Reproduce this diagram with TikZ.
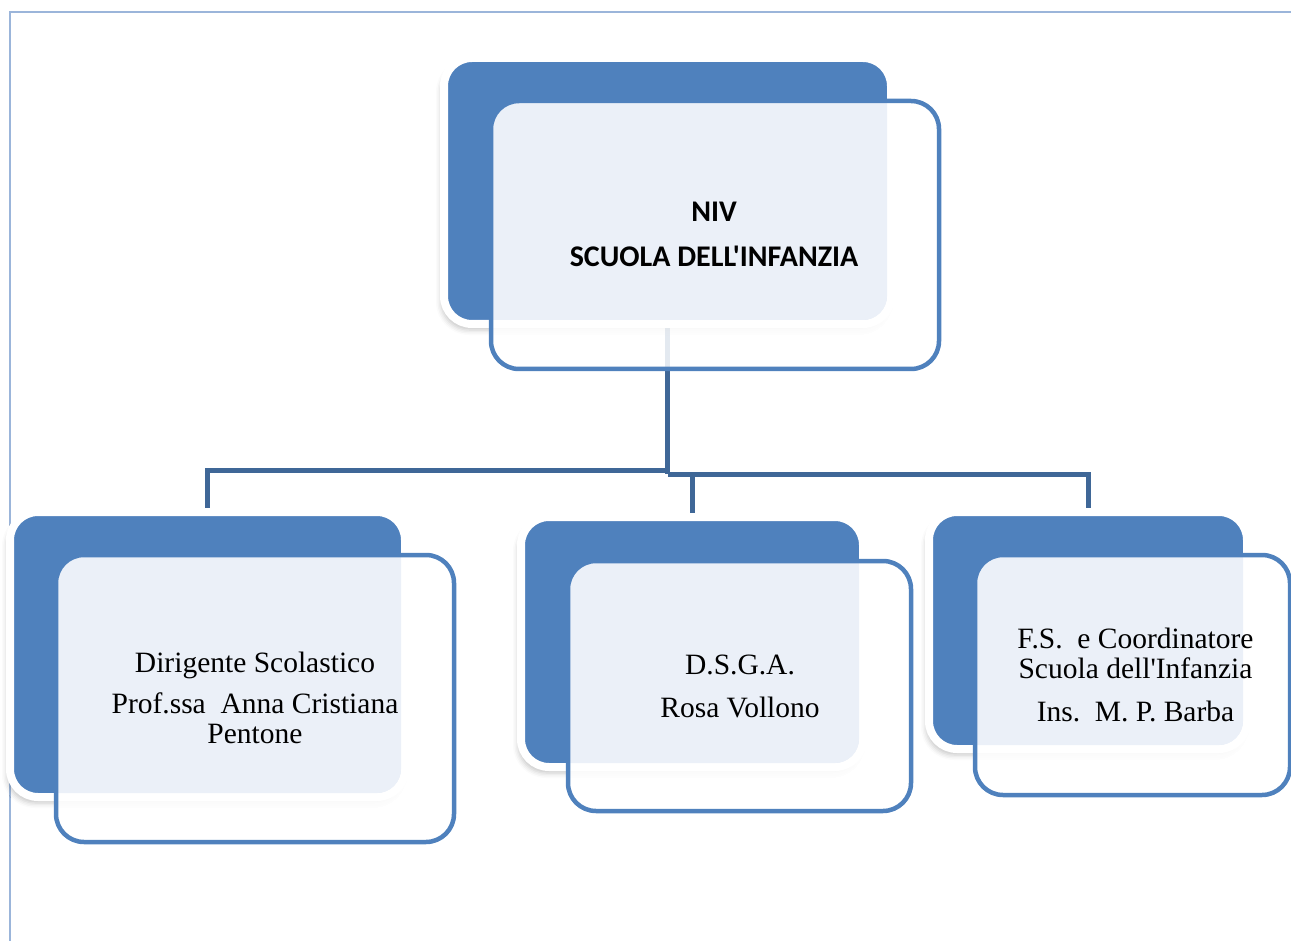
\documentclass[tikz,border=0pt]{standalone}
\usepackage{fontspec}
\setmainfont{Liberation Serif}[Ligatures=TeXOff]
\newfontfamily\boxsans{Carlito}
\usetikzlibrary{shadows.blur}
\definecolor{bluefill}{HTML}{4F81BD}
\definecolor{lightfill}{HTML}{EBF0F8}
\definecolor{connc}{HTML}{3F6797}
\definecolor{pagec}{HTML}{9BB5DA}
\pgfdeclarelayer{bg}
\pgfsetlayers{bg,main}
\tikzset{
  bluebox/.style={rectangle, rounded corners=28pt, fill=bluefill, draw=white, line width=8pt,
    inner sep=0pt, outer sep=0pt,
    blur shadow={shadow xshift=-3pt, shadow yshift=-6pt, shadow blur radius=5pt, shadow opacity=22}},
  outbox/.style={rectangle, rounded corners=28pt, fill=white, fill opacity=0.86, inner sep=0pt, outer sep=0pt},
  outline/.style={draw=bluefill, line width=4.5pt, rounded corners=28pt},
  conn/.style={draw=connc, line width=5pt},
  serif/.style={align=center, font=\fontsize{29.5}{30}\selectfont},
  sans/.style={align=center, font=\boxsans\bfseries\fontsize{30}{33}\selectfont},
}
\newcommand{\lightpart}[2]{%
  \begin{scope}
    \clip[rounded corners=24pt] ([xshift=4pt,yshift=4pt]#1.south west) rectangle ([xshift=-4pt,yshift=-4pt]#1.north east);
    \fill[lightfill, rounded corners=28pt] (#2.south west) rectangle (#2.north east);
  \end{scope}
  \draw[outline] (#2.south west) rectangle (#2.north east);
}
\begin{document}
\begin{tikzpicture}[x=1pt,y=-1pt]
\useasboundingbox (0,0) rectangle (1291,941);
% page border
\draw[pagec, line width=2pt] (9.5,941) -- (9.5,12.5) -- (1291,12.5);

% top unit
\node[bluebox, minimum width=447pt, minimum height=266pt] (tb) at (667.5,191) {};
\node[outbox, minimum width=448pt, minimum height=268pt] (to) at (715,235) {};
\lightpart{tb}{to}
\node[sans] (tt) at (714,234.5) {NIV\\[12pt]SCUOLA DELL'INFANZIA};

% left unit
\node[bluebox, minimum width=395pt, minimum height=285pt] (lb) at (207.5,654.5) {};
\node[outbox, minimum width=398pt, minimum height=287pt] (lo) at (255,698.5) {};
\lightpart{lb}{lo}
\node[serif] (lt) at (255,698) {Dirigente Scolastico\\[11pt]Prof.ssa\ \ Anna Cristiana\\Pentone};

% middle unit
\node[bluebox, minimum width=342pt, minimum height=250pt] (mb) at (692,642) {};
\node[outbox, minimum width=343pt, minimum height=250pt] (mo) at (739.5,686) {};
\lightpart{mb}{mo}
\node[serif] (mt) at (740,686.5) {D.S.G.A.\\[13pt]Rosa Vollono};

% right unit
\node[bluebox, minimum width=318pt, minimum height=237pt] (rb) at (1088,630.5) {};
\node[outbox, minimum width=315pt, minimum height=240pt] (ro) at (1132.5,675) {};
\lightpart{rb}{ro}
\node[serif] (rt) at (1135.5,675) {F.S.\ \ e Coordinatore\\Scuola dell'Infanzia\\[13pt]Ins.\ \ M. P. Barba};

% connectors (behind boxes)
\coordinate (jl) at (667.5,470);
\coordinate (jr) at (667.5,474);
\begin{pgfonlayer}{bg}
\draw[conn] (tb.south) -- (jr);
\draw[conn] (jl) -| (lb.north);
\draw[conn] (jr) -| (mb.north);
\draw[conn] (jr) -| (rb.north);
\end{pgfonlayer}
\end{tikzpicture}
\end{document}
